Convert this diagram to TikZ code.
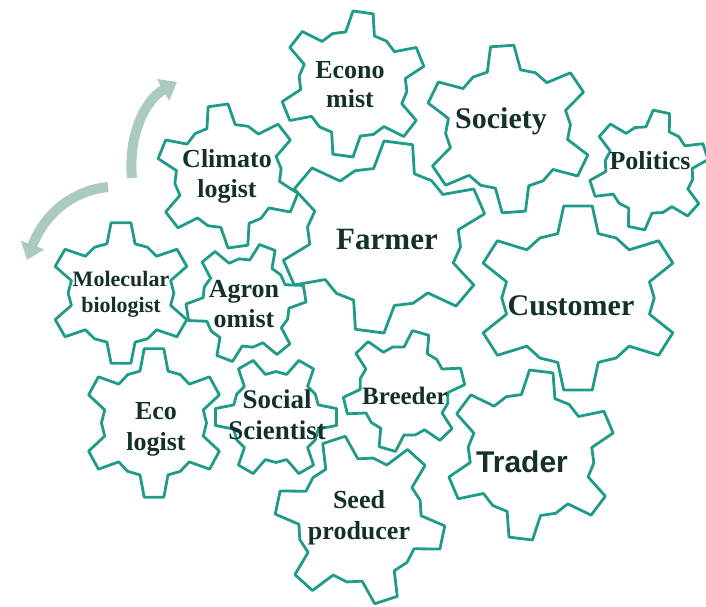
\documentclass[tikz,border=0pt]{standalone}
\usepackage{fontspec}
\setmainfont{Liberation Serif}
\newfontfamily\sansface{Liberation Sans}
\usetikzlibrary{arrows.meta}
\definecolor{gearteal}{RGB}{32,155,138}
\definecolor{txtdark}{RGB}{20,48,42}
\definecolor{arrowgray}{RGB}{170,202,194}
\tikzset{
  gearline/.style={draw=gearteal,line width=2.8pt,line join=round},
  lbl/.style={text=txtdark,align=center,inner sep=0pt},
  bigarrow/.style={draw=arrowgray,line width=10pt,-{Triangle[width=24pt,length=16pt]}},
}
\newcommand\geardraw[5]{%
  \begin{scope}[shift={(#1,#2)},xscale=#5]
    \draw[gearline] ({270+#4-16}:{0.72*#3})
      \foreach \k in {0,...,5}{
        -- ({270+#4+60*\k-16}:{0.72*#3})
        -- ({270+#4+60*\k-8}:{#3})
        -- ({270+#4+60*\k+8}:{#3})
        -- ({270+#4+60*\k+16}:{0.72*#3})
        -- ({270+#4+60*\k+30}:{0.745*#3})
      } -- cycle;
  \end{scope}}
\begin{document}
\begin{tikzpicture}[x=1pt,y=-1pt]
\useasboundingbox (0,0) rectangle (706,607);
% arrows
\coordinate (a1s) at (132,178);
\coordinate (a1e) at (177,82);
\draw[bigarrow] (a1s) .. controls (128,135) and (145,100) .. (a1e);
\coordinate (a2s) at (108,187);
\coordinate (a2e) at (27,260);
\draw[bigarrow] (a2s) .. controls (75,190) and (45,212) .. (a2e);
% gears
\geardraw{353}{84}{73}{8}{1}
\geardraw{508}{129}{84}{-4}{1}
\geardraw{649}{170}{60}{12}{1}
\geardraw{228}{176}{72}{-8}{1}
\geardraw{384}{237}{96}{8}{1.08}
\geardraw{578}{298}{93}{0}{1.1}
\geardraw{121}{293}{71}{0}{1}
\geardraw{246}{303}{60}{21}{1}
\geardraw{154}{423}{75}{0}{0.94}
\geardraw{276}{417}{61}{30}{1}
\geardraw{404}{391}{61}{16}{1}
\geardraw{360}{520}{85}{-18}{1}
\geardraw{531}{455}{85}{7}{1}
% labels
\node[lbl,font={\bfseries\fontsize{26}{29}\selectfont}] (econ) at (350,85) {Econo\\mist};
\node[lbl,font={\bfseries\fontsize{30}{33}\selectfont}] (soc) at (501,121) {Society};
\node[lbl,font={\bfseries\fontsize{26}{29}\selectfont}] (pol) at (650,161) {Politics};
\node[lbl,font={\bfseries\fontsize{26}{30}\selectfont}] (clim) at (227,176) {Climato\\logist};
\node[lbl,font={\bfseries\fontsize{31}{34}\selectfont}] (farm) at (387,239) {Farmer};
\node[lbl,font={\bfseries\fontsize{30}{33}\selectfont}] (cust) at (571,306) {Customer};
\node[lbl,font={\bfseries\fontsize{22}{26}\selectfont}] (mol) at (121,294) {Molecular\\biologist};
\node[lbl,font={\bfseries\fontsize{26}{30}\selectfont}] (agr) at (244,304) {Agron\\omist};
\node[lbl,font={\bfseries\fontsize{26}{31}\selectfont}] (eco) at (156,429) {Eco\\logist};
\node[lbl,font={\bfseries\fontsize{27}{31}\selectfont}] (socsci) at (277,415) {Social\\Scientist};
\node[lbl,font={\bfseries\fontsize{25}{28}\selectfont}] (breed) at (405,396) {Breeder};
\node[lbl,font={\bfseries\fontsize{26}{31}\selectfont}] (seed) at (359,518) {Seed\\producer};
\node[lbl,font={\sansface\bfseries\fontsize{30}{33}\selectfont}] (trad) at (522,462) {Trader};
\end{tikzpicture}
\end{document}
